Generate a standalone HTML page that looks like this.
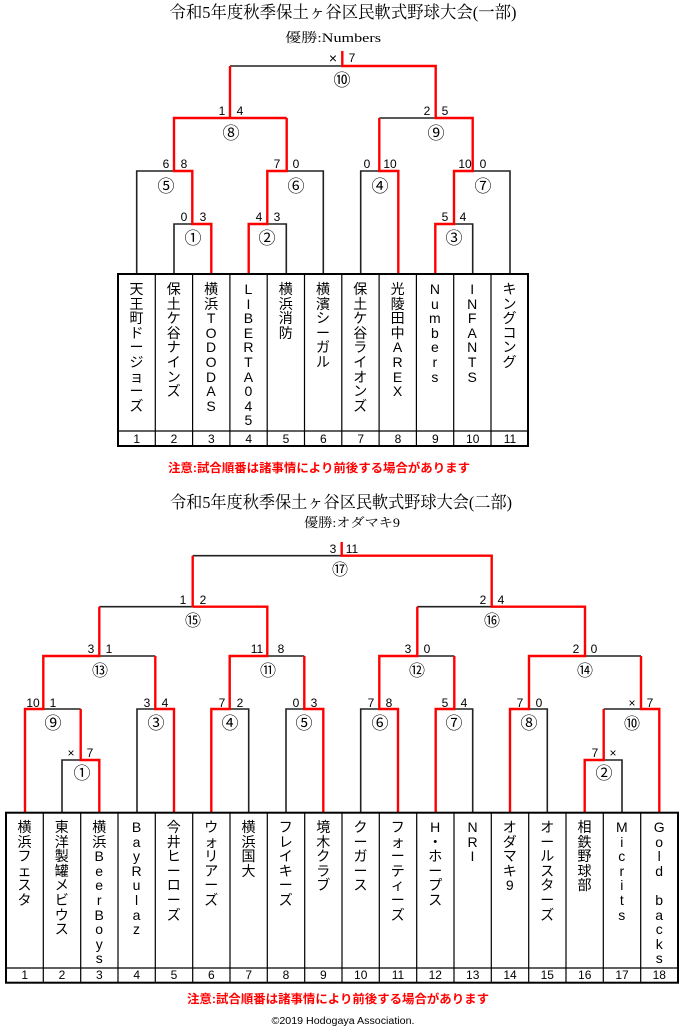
<!DOCTYPE html>
<html><head><meta charset="utf-8"><style>
body{margin:0;background:#fff;width:680px;height:1028px;overflow:hidden;position:relative}
svg{position:absolute;left:0;top:0}
.n{position:absolute;width:37px;text-align:center;font:14px/14.6px "Liberation Sans","Noto Sans CJK JP",sans-serif;color:#000}
.c{font-size:17px}
.d{font-size:16px}
</style></head><body>
<svg width="680" height="1028" viewBox="0 0 680 1028" xmlns="http://www.w3.org/2000/svg">
<g font-family="'Liberation Serif','Noto Serif CJK JP',serif" fill="#000" text-anchor="middle">
<text x="343" y="18" font-size="17" textLength="347" lengthAdjust="spacingAndGlyphs">令和5年度秋季保土ヶ谷区民軟式野球大会(一部)</text>
<text x="333" y="42" font-size="13" textLength="96" lengthAdjust="spacingAndGlyphs">優勝:Numbers</text>
<text x="341" y="508" font-size="17" textLength="342" lengthAdjust="spacingAndGlyphs">令和5年度秋季保土ヶ谷区民軟式野球大会(二部)</text>
<text x="352" y="527" font-size="13" textLength="96" lengthAdjust="spacingAndGlyphs">優勝:オダマキ9</text>
</g>
<g fill="none" stroke="#222" stroke-width="1.6">
<path d="M136.7 274V171H174M174 274V224H192.3M230 66H342.3M267.3 224H286.3V274M286.7 171H323.3V274M360.7 274V171H379.3M379.3 118H435.7M472.7 171H510V274M454 224H472.7V274"/>
<path d="M62 812.7V760H80.7M43.3 709H80.7M99.3 656H155.3M137 812.7V709H155.3M99.3 606.7H192.7M192.7 555.7H341.7M229.7 709H248.7V812.7M267.3 656H304.3M286 812.7V709H304.3M360.7 812.7V709H379.3M417.3 606.7H491.7M417.3 656H454.3M454.3 709H472.7V812.7M585 656H641M529 709H547.3V812.7M603.7 709H641M603.7 760H622V812.7"/>
</g>
<g fill="none" stroke="#f00" stroke-width="2.4">
<path d="M211.3 274V224H192.3V171H174V118H286.7M230 118V66M248.7 274V224H267.3V171H286.7V118M342.3 51V66H435.7V118H472.7V171H454V224H435.3V274M398.3 274V171H379.3V118"/>
<path d="M99.3 812.7V760H80.7V709M25 812.7V709H43.3V656H99.3V606.7M174 812.7V709H155.3V656M192.7 606.7V555.7M192.7 606.7H267.3V656H229.7V709H211.3V812.7M304.3 656V709H323.3V812.7M341.7 542V555.7H491.7V606.7H585V656H529V709H510V812.7M417.3 606.7V656H379.3V709H398V812.7M454.3 656V709H435.7V812.7M641 656V709H659.3V812.7M603.7 709V760H584.7V812.7"/>
</g>
<g fill="none" stroke="#000">
<rect x="118" y="274" width="410" height="172" stroke-width="2"/>
<path stroke-width="1.2" d="M118 431H528M155.3 274V446M192.6 274V446M229.9 274V446M267.2 274V446M304.5 274V446M341.8 274V446M379.1 274V446M416.4 274V446M453.7 274V446M491 274V446"/>
<rect x="6" y="812.7" width="672" height="170" stroke-width="2"/>
<path stroke-width="1.2" d="M6 968H678M43.3 812.7V982.7M80.7 812.7V982.7M118 812.7V982.7M155.3 812.7V982.7M192.7 812.7V982.7M230 812.7V982.7M267.3 812.7V982.7M304.7 812.7V982.7M342 812.7V982.7M379.3 812.7V982.7M416.7 812.7V982.7M454 812.7V982.7M491.3 812.7V982.7M528.7 812.7V982.7M566 812.7V982.7M603.3 812.7V982.7M640.7 812.7V982.7"/>
</g>
<g font-family="'Liberation Sans','Noto Sans CJK JP',sans-serif" font-size="12" text-anchor="middle" fill="#000">
<text x="136.7" y="443">1</text><text x="174" y="443">2</text><text x="211.3" y="443">3</text><text x="248.7" y="443">4</text><text x="286" y="443">5</text><text x="323.3" y="443">6</text><text x="360.7" y="443">7</text><text x="398" y="443">8</text><text x="435.3" y="443">9</text><text x="472.7" y="443">10</text><text x="510" y="443">11</text>
<text x="24.7" y="979">1</text><text x="62" y="979">2</text><text x="99.3" y="979">3</text><text x="136.7" y="979">4</text><text x="174" y="979">5</text><text x="211.3" y="979">6</text><text x="248.7" y="979">7</text><text x="286" y="979">8</text><text x="323.3" y="979">9</text><text x="360.7" y="979">10</text><text x="398" y="979">11</text><text x="435.3" y="979">12</text><text x="472.7" y="979">13</text><text x="510" y="979">14</text><text x="547.3" y="979">15</text><text x="584.7" y="979">16</text><text x="622" y="979">17</text><text x="659.3" y="979">18</text>
</g>
<g font-family="'Liberation Sans','Noto Sans CJK JP',sans-serif" font-size="12" text-anchor="middle" fill="#000">
<text x="333" y="63" font-size="14">×</text><text x="352" y="62">7</text><text x="342" y="86" class="c">⑩</text>
<text x="222" y="115">1</text><text x="240" y="115">4</text><text x="231" y="139" class="c">⑧</text>
<text x="427" y="115">2</text><text x="445" y="115">5</text><text x="436" y="139" class="c">⑨</text>
<text x="166" y="168">6</text><text x="184" y="168">8</text><text x="166" y="192" class="c">⑤</text>
<text x="277" y="168">7</text><text x="296" y="168">0</text><text x="296" y="192" class="c">⑥</text>
<text x="367" y="168">0</text><text x="390" y="168">10</text><text x="380" y="192" class="c">④</text>
<text x="465" y="168">10</text><text x="483" y="168">0</text><text x="483" y="192" class="c">⑦</text>
<text x="184" y="221">0</text><text x="203" y="221">3</text><text x="193" y="244" class="c">①</text>
<text x="259" y="221">4</text><text x="277" y="221">3</text><text x="267" y="244" class="c">②</text>
<text x="445" y="221">5</text><text x="463" y="221">4</text><text x="454" y="244" class="c">③</text>

<text x="333" y="553">3</text><text x="352" y="553">11</text><text x="340" y="575" class="d">⑰</text>
<text x="183" y="604">1</text><text x="203" y="604">2</text><text x="193" y="626" class="d">⑮</text>
<text x="483" y="604">2</text><text x="501" y="604">4</text><text x="492" y="626" class="d">⑯</text>
<text x="91" y="653">3</text><text x="109" y="653">1</text><text x="100" y="676" class="d">⑬</text>
<text x="257" y="653">11</text><text x="281" y="653">8</text><text x="268" y="676" class="d">⑪</text>
<text x="408" y="653">3</text><text x="427" y="653">0</text><text x="417" y="676" class="d">⑫</text>
<text x="576" y="653">2</text><text x="594" y="653">0</text><text x="585" y="676" class="d">⑭</text>
<text x="33" y="707">10</text><text x="53" y="707">1</text><text x="53" y="729" class="c">⑨</text>
<text x="147" y="707">3</text><text x="165" y="707">4</text><text x="156" y="729" class="c">③</text>
<text x="222" y="707">7</text><text x="240" y="707">2</text><text x="230" y="729" class="c">④</text>
<text x="296" y="707">0</text><text x="314" y="707">3</text><text x="304" y="729" class="c">⑤</text>
<text x="371" y="707">7</text><text x="389" y="707">8</text><text x="380" y="729" class="c">⑥</text>
<text x="445" y="707">5</text><text x="464" y="707">4</text><text x="454" y="729" class="c">⑦</text>
<text x="520" y="707">7</text><text x="539" y="707">0</text><text x="529" y="729" class="c">⑧</text>
<text x="632" y="707">×</text><text x="650" y="707">7</text><text x="632" y="729" class="d">⑩</text>
<text x="71" y="757">×</text><text x="90" y="757">7</text><text x="82" y="779" class="c">①</text>
<text x="595" y="757">7</text><text x="613" y="757">×</text><text x="604" y="779" class="c">②</text>
</g>
<g font-family="'Liberation Sans','Noto Sans CJK JP',sans-serif" font-weight="bold" fill="#f00" text-anchor="middle">
<text x="319" y="472" font-size="12" textLength="302" lengthAdjust="spacingAndGlyphs">注意:試合順番は諸事情により前後する場合があります</text>
<text x="338" y="1003" font-size="12" textLength="302" lengthAdjust="spacingAndGlyphs">注意:試合順番は諸事情により前後する場合があります</text>
</g>
<text x="343" y="1024" font-family="'Liberation Sans',sans-serif" font-size="10" text-anchor="middle" textLength="143" lengthAdjust="spacingAndGlyphs">©2019 Hodogaya Association.</text>
</svg>

<div class="n" style="left:118px;top:282px">天<br>王<br>町<br>ド<br>ー<br>ジ<br>ョ<br>ー<br>ズ</div>
<div class="n" style="left:155.3px;top:282px">保<br>土<br>ケ<br>谷<br>ナ<br>イ<br>ン<br>ズ</div>
<div class="n" style="left:192.6px;top:282px">横<br>浜<br>T<br>O<br>D<br>O<br>D<br>A<br>S</div>
<div class="n" style="left:229.9px;top:282px">L<br>I<br>B<br>E<br>R<br>T<br>A<br>0<br>4<br>5</div>
<div class="n" style="left:267.2px;top:282px">横<br>浜<br>消<br>防</div>
<div class="n" style="left:304.5px;top:282px">横<br>濱<br>シ<br>ー<br>ガ<br>ル</div>
<div class="n" style="left:341.8px;top:282px">保<br>土<br>ケ<br>谷<br>ラ<br>イ<br>オ<br>ン<br>ズ</div>
<div class="n" style="left:379.1px;top:282px">光<br>陵<br>田<br>中<br>A<br>R<br>E<br>X</div>
<div class="n" style="left:416.4px;top:282px">N<br>u<br>m<br>b<br>e<br>r<br>s</div>
<div class="n" style="left:453.7px;top:282px">I<br>N<br>F<br>A<br>N<br>T<br>S</div>
<div class="n" style="left:491px;top:282px">キ<br>ン<br>グ<br>コ<br>ン<br>グ</div>

<div class="n" style="left:6px;top:820px">横<br>浜<br>フ<br>ェ<br>ス<br>タ</div>
<div class="n" style="left:43.3px;top:820px">東<br>洋<br>製<br>罐<br>メ<br>ビ<br>ウ<br>ス</div>
<div class="n" style="left:80.7px;top:820px">横<br>浜<br>B<br>e<br>e<br>r<br>B<br>o<br>y<br>s</div>
<div class="n" style="left:118px;top:820px">B<br>a<br>y<br>R<br>u<br>l<br>a<br>z</div>
<div class="n" style="left:155.3px;top:820px">今<br>井<br>ヒ<br>ー<br>ロ<br>ー<br>ズ</div>
<div class="n" style="left:192.7px;top:820px">ウ<br>ォ<br>リ<br>ア<br>ー<br>ズ</div>
<div class="n" style="left:230px;top:820px">横<br>浜<br>国<br>大</div>
<div class="n" style="left:267.3px;top:820px">フ<br>レ<br>イ<br>キ<br>ー<br>ズ</div>
<div class="n" style="left:304.7px;top:820px">境<br>木<br>ク<br>ラ<br>ブ</div>
<div class="n" style="left:342px;top:820px">ク<br>ー<br>ガ<br>ー<br>ス</div>
<div class="n" style="left:379.3px;top:820px">フ<br>ォ<br>ー<br>テ<br>ィ<br>ー<br>ズ</div>
<div class="n" style="left:416.7px;top:820px">H<br>・<br>ホ<br>ー<br>プ<br>ス</div>
<div class="n" style="left:454px;top:820px">N<br>R<br>I</div>
<div class="n" style="left:491.3px;top:820px">オ<br>ダ<br>マ<br>キ<br>9</div>
<div class="n" style="left:528.7px;top:820px">オ<br>ー<br>ル<br>ス<br>タ<br>ー<br>ズ</div>
<div class="n" style="left:566px;top:820px">相<br>鉄<br>野<br>球<br>部</div>
<div class="n" style="left:603.3px;top:820px">M<br>i<br>c<br>r<br>i<br>t<br>s</div>
<div class="n" style="left:640.7px;top:820px">G<br>o<br>l<br>d<br>&nbsp;<br>b<br>a<br>c<br>k<br>s</div>
</body></html>
